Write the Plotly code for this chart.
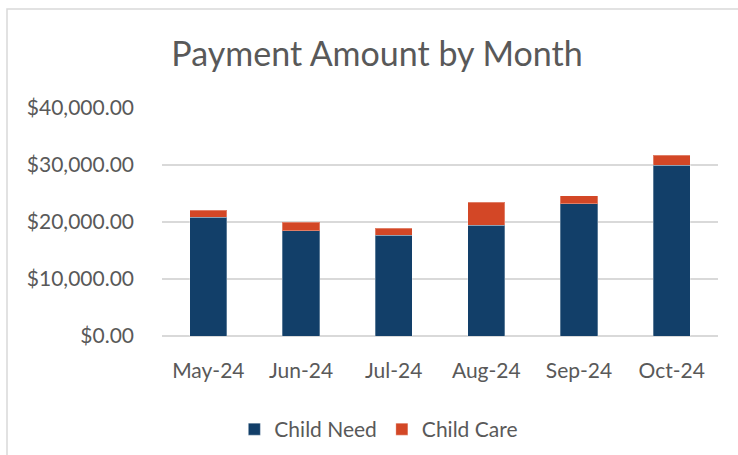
import plotly.graph_objects as go

months = ["May-24", "Jun-24", "Jul-24", "Aug-24", "Sep-24", "Oct-24"]
child_need = [20800, 18500, 17700, 19400, 23200, 30000]
child_care = [1250, 1500, 1200, 4050, 1450, 1750]
y_ticks = [0, 10000, 20000, 30000, 40000]
y_tick_labels = ["$0.00", "$10,000.00", "$20,000.00", "$30,000.00", "$40,000.00"]

FONT = "Lato"
TXT = "#595959"
GRID = "#D9D9D9"

fig = go.Figure()
fig.add_trace(go.Bar(
    x=months, y=child_need, name="Child Need",
    marker=dict(color="#123F69", line=dict(color="rgba(255,255,255,0.3)", width=1)),
))
fig.add_trace(go.Bar(
    x=months, y=child_care, name="Child Care",
    marker=dict(color="#D34726", line=dict(color="rgba(255,255,255,0.3)", width=1)),
))

W, H = 738, 455
L, R, T, B = 162, 20, 108, 119

fig.update_layout(
    width=W, height=H,
    barmode="stack", bargap=0.6,
    margin=dict(l=L, r=R, t=T, b=B, autoexpand=False),
    paper_bgcolor="white", plot_bgcolor="white",
    font=dict(family=FONT, color=TXT, size=21),
    title=dict(
        text="Payment Amount by Month",
        font=dict(family=FONT, size=34, color=TXT),
        xref="container", yref="container",
        x=377 / W, y=1 - 54 / H, xanchor="center", yanchor="middle",
    ),
    showlegend=True,
    legend=dict(
        orientation="h", x=0.39, y=-0.41, xanchor="center", yanchor="middle",
        font=dict(family=FONT, size=21, color=TXT),
        traceorder="normal", itemwidth=30,
    ),
    xaxis=dict(
        showgrid=False, showline=False, ticks="", ticklabelstandoff=20,
        tickfont=dict(family=FONT, size=21, color=TXT),
    ),
    yaxis=dict(
        range=[0, 40000], tickvals=y_ticks, ticktext=y_tick_labels,
        showgrid=True, gridcolor=GRID, gridwidth=1.5,
        zeroline=True, zerolinecolor=GRID, zerolinewidth=1.5,
        showline=False, ticks="", ticklabelstandoff=27,
        tickfont=dict(family=FONT, size=21, color=TXT),
    ),
    hovermode=False,
)

# chart area border (light gray)
pw, ph = W - L - R, H - T - B
def px_x(v):
    return (v - L) / pw
def px_y(v):
    return (H - B - v) / ph
fig.add_shape(type="rect", xref="paper", yref="paper",
              x0=px_x(7), x1=px_x(745), y0=px_y(462), y1=px_y(9),
              line=dict(color=GRID, width=1.5), fillcolor="rgba(0,0,0,0)", layer="below")

fig.write_html(
    "out.html",
    config={"displayModeBar": False},
    post_script="document.body.style.margin='0';document.body.style.overflow='hidden';",
)
